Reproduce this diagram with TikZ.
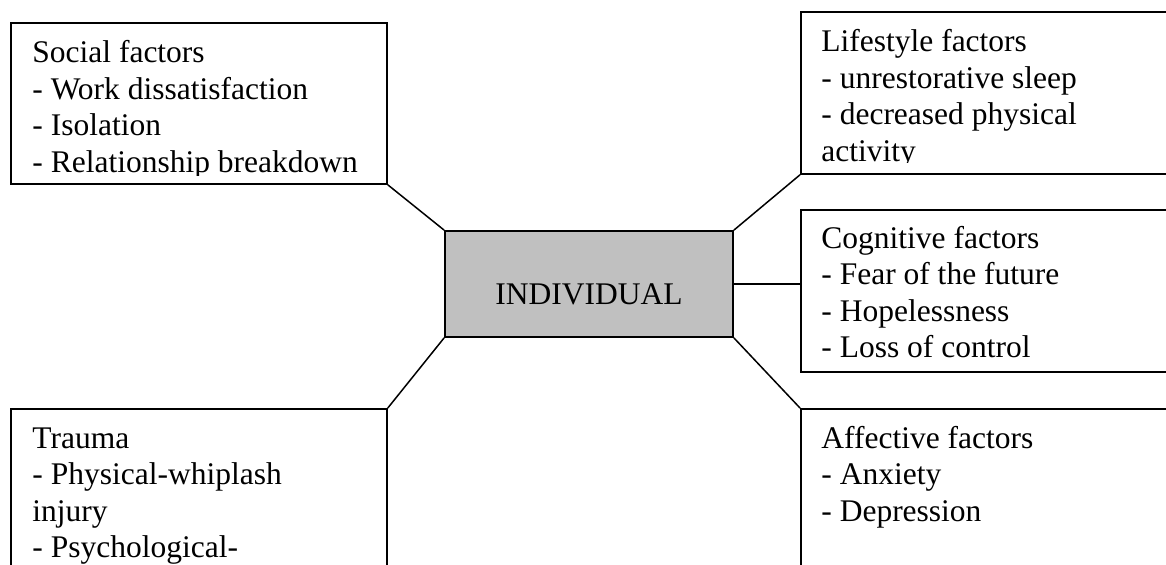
\documentclass[tikz,border=0pt]{standalone}
\usepackage{fontspec}
\setmainfont{Liberation Serif}
\usepackage{xcolor}
\usepackage{tikz}
\usetikzlibrary{positioning}
\definecolor{boxgray}{RGB}{192,192,192}

\begin{document}
\begin{tikzpicture}[x=0.5pt,y=-0.5pt,
factorbox/.style={draw=black,line width=0.9pt,anchor=north west,inner sep=0pt},
centrebox/.style={draw=black,line width=0.9pt,fill=boxgray,minimum width=144pt,minimum height=53pt,inner sep=0pt,
  text height=20.4pt,text depth=0pt,font=\fontsize{15.75pt}{18.25pt}\selectfont},
factext/.style={anchor=base west,align=left,inner sep=0pt,font=\fontsize{15.75pt}{18.25pt}\selectfont},
link/.style={draw=black,line width=0.75pt}
]
\useasboundingbox (0,0) rectangle (1166,564);
\clip (0,0) rectangle (1166,564);

% boxes
\node[factorbox,minimum width=188pt,minimum height=80.5pt] (social) at (10,22) {};
\node[factorbox,minimum width=200pt,minimum height=81pt] (lifestyle) at (800,11) {};
\node[factorbox,minimum width=200pt,minimum height=81pt] (cognitive) at (800,209) {};
\node[factorbox,minimum width=200pt,minimum height=100pt] (affective) at (800,408) {};
\node[factorbox,minimum width=188pt,minimum height=100pt] (trauma) at (10,408) {};
\node[centrebox] (indiv) at (589,284) {INDIVIDUAL};

% texts (placed by the baseline of their last line), cut off at the foot of the box
\begin{scope}
\clip (social.north west) rectangle ([yshift=4.5pt]social.south east);
\node[factext] (socialtxt) at (32,172) {Social factors\\- Work dissatisfaction\\- Isolation\\- Relationship breakdown};
\end{scope}
\begin{scope}
\clip (lifestyle.north west) rectangle ([yshift=6pt]lifestyle.south east);
\node[factext] (lifestyletxt) at (821,161) {Lifestyle factors\\- unrestorative sleep\\- decreased physical\\activity};
\end{scope}
\node[factext] (cognitivetxt) at (821,357.5) {Cognitive factors\\- Fear of the future\\- Hopelessness\\- Loss of control};
\node[factext] (affectivetxt) at (821,521) {Affective factors\\- Anxiety\\- Depression};
\node[factext] (traumatxt) at (32,557.5) {Trauma\\- Physical-whiplash\\injury\\- Psychological-};

% links to the centre
\draw[link] (social.south east) -- (indiv.north west);
\draw[link] (lifestyle.south west) -- (indiv.north east);
\draw[link] (indiv.east) -- (indiv.east -| cognitive.west);
\draw[link] (indiv.south west) -- (trauma.north east);
\draw[link] (indiv.south east) -- (affective.north west);
\end{tikzpicture}
\end{document}
